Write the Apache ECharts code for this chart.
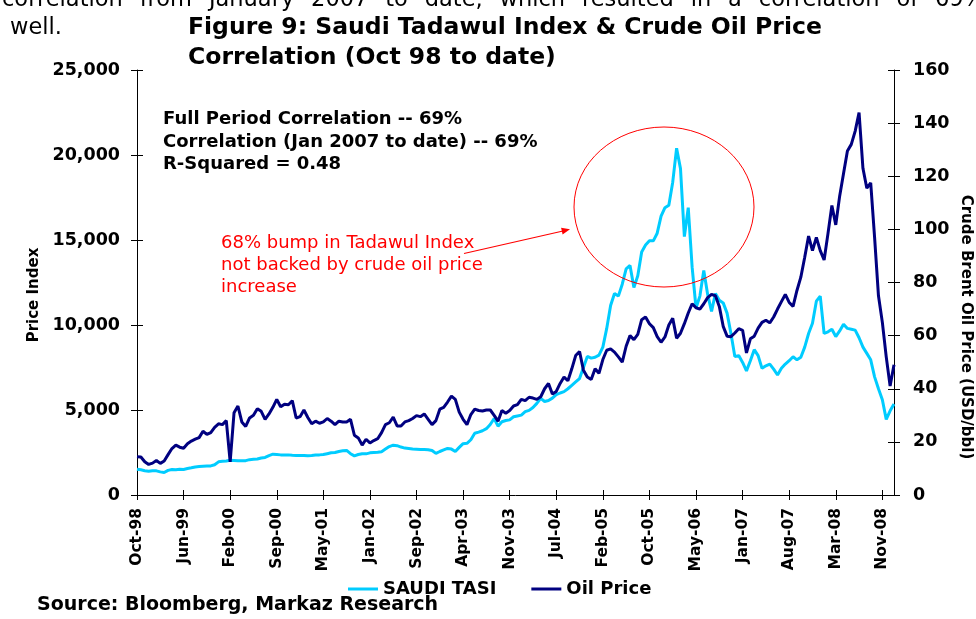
<!DOCTYPE html>
<html><head><meta charset="utf-8">
<script src="https://cdn.jsdelivr.net/npm/echarts@6/dist/echarts.min.js"></script>
<style>html,body{margin:0;padding:0;background:#fff}#c{width:976px;height:619px}</style>
</head><body><div id="c"></div>
<script>
const tickLabels = ['Oct-98','Jun-99','Feb-00','Sep-00','May-01','Jan-02','Sep-02','Apr-03','Nov-03','Jul-04','Feb-05','Oct-05','May-06','Jan-07','Aug-07','Mar-08','Nov-08'];
const seriesNames = ['SAUDI TASI','Oil Price'];
const tasi = [
1510,1480,1430,1400,1430,1420,1360,1320,1450,1500,1480,1510,
1500,1560,1600,1650,1670,1690,1700,1710,1780,1950,1980,2000,
2040,2030,2010,2010,2020,2080,2100,2120,2180,2210,2320,2400,
2380,2360,2350,2360,2340,2330,2320,2330,2310,2320,2350,2360,
2380,2430,2480,2500,2560,2600,2620,2430,2300,2380,2430,2420,
2480,2500,2520,2550,2700,2850,2930,2900,2820,2760,2730,2700,
2690,2680,2670,2660,2620,2450,2560,2650,2740,2700,2560,2800,
3020,3040,3250,3630,3700,3780,3900,4150,4500,4050,4310,4380,
4420,4600,4650,4700,4900,4980,5150,5390,5680,5500,5560,5700,
5900,6000,6080,6250,6450,6650,6850,7500,8150,8050,8100,8230,
8700,9800,11150,11850,11700,12400,13300,13500,12200,12900,14300,14700,
14950,14950,15400,16400,16900,17050,18400,20400,19200,15200,16900,13400,
11000,11700,13200,11800,10800,11850,11450,11300,10700,9500,8150,8200,
7800,7300,7900,8550,8200,7450,7600,7700,7400,7060,7450,7700,
7900,8130,7950,8100,8700,9500,10100,11400,11700,9500,9600,9750,
9320,9650,10050,9800,9750,9700,9250,8700,8330,7950,6950,6250,
5600,4450,4950,5350];
const oil = [
14.4,14.3,12.5,11.5,12.0,13.0,11.9,12.8,15.2,17.5,18.8,18.0,
17.6,19.3,20.3,21.0,21.6,24.0,22.8,23.5,25.5,26.8,26.5,28.0,
12.5,31.0,33.5,27.5,25.8,29.0,30.0,32.5,31.5,28.5,30.5,33.0,
36.0,33.2,34.2,34.0,35.5,29.0,29.5,32.0,29.2,26.8,27.8,27.0,
27.5,28.8,27.8,26.5,27.8,27.5,27.5,28.5,22.5,21.5,18.8,21.0,
19.6,20.5,21.2,23.5,26.5,27.2,29.3,26.0,26.0,27.5,28.0,28.8,
29.9,29.5,30.5,28.5,26.5,28.0,32.3,33.0,35.0,37.2,36.0,31.2,
28.5,26.5,30.3,32.3,31.8,31.6,32.0,32.0,30.0,27.8,31.8,30.8,
31.8,33.5,34.0,36.0,35.5,36.8,36.5,36.0,37.0,40.0,42.0,38.0,
39.0,42.0,44.4,43.0,47.5,52.5,54.0,47.0,44.4,43.5,47.5,45.8,
51.0,54.5,55.0,53.8,52.0,50.0,56.0,60.0,58.5,60.5,66.0,67.0,
64.5,63.0,59.6,57.5,59.5,64.0,66.5,59.0,60.9,64.5,68.5,72.0,
70.5,70.0,72.0,74.3,75.5,75.0,71.0,63.5,59.8,59.6,61.0,62.6,
62.0,53.5,58.8,59.8,62.8,65.0,65.8,64.8,67.0,70.0,72.8,75.5,
72.5,71.0,77.0,82.0,89.5,97.5,92.0,97.0,92.0,88.5,98.5,109.0,
101.7,112.5,121.0,129.5,132.0,137.0,144.0,123.0,115.5,117.5,97.0,75.0,
65.0,52.0,41.0,49.0];
const STEP = 12; // categories between labelled ticks
const categories = tasi.map((_, i) => 'p' + i);

const FONT = '"DejaVu Sans", Verdana, sans-serif';
const chart = echarts.init(document.getElementById('c'), null, {renderer:'canvas'});

// justified paragraph line (top, partially cut)
const topLine = 'correlation from January 2007 to date, which resulted in a correlation of 69%';
const cv = document.createElement('canvas').getContext('2d');
cv.font = '22.5px "DejaVu Sans"';
const words = topLine.split(' ');
const widths = words.map(w => cv.measureText(w).width);
const startX = 2, endX = 985;
const gap = (endX - startX - widths.reduce((a,b)=>a+b,0)) / (words.length - 1);
const topWords = [];
let cx = startX;
words.forEach((w, k) => {
  topWords.push({type:'text', x:cx, y:0.6, style:{text:w, fill:'#000', font:'22.5px ' + FONT, textAlign:'left', textVerticalAlign:'middle'}});
  cx += widths[k] + gap;
});

function txt(s, x, y, size, opts) {
  opts = opts || {};
  return {type:'text', x:x, y:y, rotation:opts.rot || 0,
    style:{text:s, fill:opts.color || '#000', font:(opts.bold ? 'bold ' : '') + size + 'px ' + FONT,
      textAlign:opts.align || 'left', textVerticalAlign:'middle'}};
}

const tickFn = (i) => i % STEP === 0;
const axisFont = {fontFamily:FONT, fontWeight:'bold', color:'#000'};

const option = {
  animation:false,
  backgroundColor:'#fff',
  grid:[
    {left:137, right:82, top:70, bottom:124, outerBoundsMode:'none', containLabel:false},
    {left:137, right:82, top:70, bottom:124, outerBoundsMode:'none', containLabel:false}
  ],
  xAxis:[
    {type:'category', gridIndex:0, data:categories, boundaryGap:false, position:'bottom',
     axisLine:{show:true, onZero:false, lineStyle:{color:'#000', width:1}},
     axisTick:{show:true, length:5, interval:tickFn, lineStyle:{color:'#000', width:1}},
     axisLabel:{show:true, interval:tickFn, rotate:90, margin:13, fontSize:15.5, ...axisFont,
       formatter:(v, i) => (i % STEP === 0 ? (tickLabels[i / STEP] || '') : '')},
     splitLine:{show:false}},
    {type:'category', gridIndex:1, data:categories, boundaryGap:false, position:'bottom',
     axisLine:{show:false}, axisLabel:{show:false}, splitLine:{show:false},
     axisTick:{show:true, inside:true, length:5, interval:tickFn, lineStyle:{color:'#000', width:1}}}
  ],
  yAxis:[
    {type:'value', gridIndex:0, position:'left', min:0, max:25000, interval:5000,
     axisLine:{show:true, lineStyle:{color:'#000', width:1}},
     axisTick:{show:true, length:6, lineStyle:{color:'#000', width:1}},
     axisLabel:{margin:17, fontSize:17.5, ...axisFont, formatter:v => v.toLocaleString('en-US')},
     splitLine:{show:false}},
    {type:'value', gridIndex:0, position:'right', min:0, max:160, interval:20,
     axisLine:{show:true, lineStyle:{color:'#000', width:1}},
     axisTick:{show:true, length:6, lineStyle:{color:'#000', width:1}},
     axisLabel:{margin:19, fontSize:17.5, ...axisFont},
     splitLine:{show:false}},
    {type:'value', gridIndex:1, position:'left', min:0, max:25000, interval:5000,
     axisLine:{show:false}, axisLabel:{show:false}, splitLine:{show:false},
     axisTick:{show:true, inside:true, length:6, lineStyle:{color:'#000', width:1}}},
    {type:'value', gridIndex:1, position:'right', min:0, max:160, interval:20,
     axisLine:{show:false}, axisLabel:{show:false}, splitLine:{show:false},
     axisTick:{show:true, inside:true, length:6, lineStyle:{color:'#000', width:1}}}
  ],
  legend:{left:348, top:580, padding:0, itemWidth:30, itemHeight:3, itemGap:35, icon:'rect',
    data:seriesNames,
    textStyle:{fontFamily:FONT, fontWeight:'bold', fontSize:18, color:'#000'}},
  series:[
    {name:seriesNames[0], type:'line', xAxisIndex:0, yAxisIndex:0, data:tasi, showSymbol:false, symbol:'none',
     lineStyle:{color:'#00CCFF', width:3}, itemStyle:{color:'#00CCFF'}, z:2},
    {name:seriesNames[1], type:'line', xAxisIndex:0, yAxisIndex:1, data:oil, showSymbol:false, symbol:'none',
     lineStyle:{color:'#000080', width:3}, itemStyle:{color:'#000080'}, z:3}
  ],
  graphic:[
    ...topWords,
    txt('well.', 10, 28.1, 22.5),
    txt('Figure 9: Saudi Tadawul Index & Crude Oil Price', 188, 27.8, 23.5, {bold:true}),
    txt('Correlation (Oct 98 to date)', 188, 58.3, 23.5, {bold:true}),
    txt('Full Period Correlation -- 69%', 163, 119.4, 18, {bold:true}),
    txt('Correlation (Jan 2007 to date) -- 69%', 163, 142, 18, {bold:true}),
    txt('R-Squared = 0.48', 163, 164.4, 18, {bold:true}),
    txt('68% bump in Tadawul Index', 221, 243.7, 18, {color:'#FF0000'}),
    txt('not backed by crude oil price', 221, 265.4, 18, {color:'#FF0000'}),
    txt('increase', 221, 287.1, 18, {color:'#FF0000'}),
    txt('Price Index', 34, 295, 15, {bold:true, rot:Math.PI/2, align:'center'}),
    txt('Crude Brent Oil Price (USD/bbl)', 966, 327, 15, {bold:true, rot:-Math.PI/2, align:'center'}),
    txt('Source: Bloomberg, Markaz Research', 37, 605.4, 19, {bold:true}),
    {type:'ellipse', shape:{cx:664, cy:207, rx:90, ry:80}, style:{fill:null, stroke:'#FF0000', lineWidth:1}, z:10},
    {type:'line', shape:{x1:464, y1:253.5, x2:563, y2:231}, style:{stroke:'#FF0000', lineWidth:1.2}, z:10},
    {type:'polygon', shape:{points:[[570,229.3],[562.6,234.6],[561.1,227.8]]}, style:{fill:'#FF0000'}, z:10}
  ]
};
chart.setOption(option);
</script>
</body></html>
